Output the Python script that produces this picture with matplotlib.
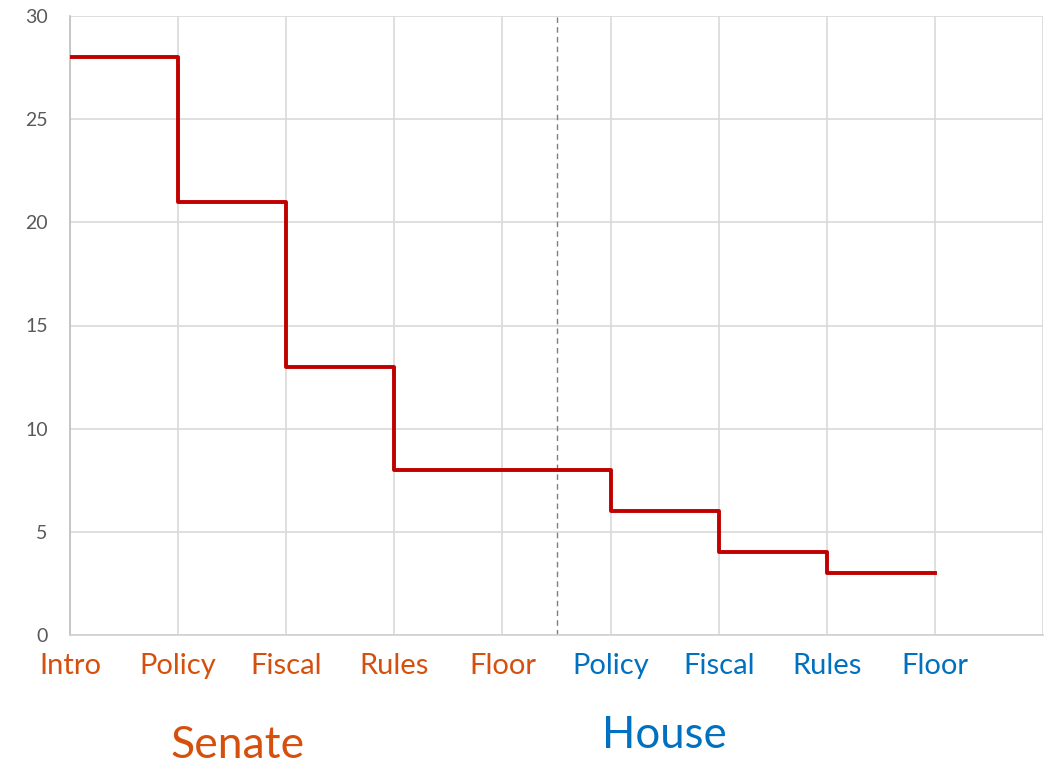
import matplotlib
matplotlib.use("Agg")
import matplotlib.pyplot as plt

stages = ["Intro", "Policy", "Fiscal", "Rules", "Floor", "Policy", "Fiscal", "Rules", "Floor"]
chambers = ["Senate", "Senate", "Senate", "Senate", "Senate", "House", "House", "House", "House"]
counts = [28, 21, 13, 8, 8, 6, 4, 3, 3]
yticks = [0, 5, 10, 15, 20, 25, 30]

colors = {"Senate": "#D5500C", "House": "#0070C0"}
plt.rcParams['font.family'] = ['Lato', 'DejaVu Sans']

fig = plt.figure(figsize=(10.56, 7.67), dpi=100)
ax = fig.add_axes([70/1056, 1 - 635/767, (1043-70)/1056, (635-16)/767])

x = list(range(len(stages)))
ax.step(x, counts, where='post', color='#C00000', lw=2.8, zorder=3)

ax.set_xlim(0, 9)
ax.set_ylim(0, 30)
ax.set_yticks(yticks)
ax.set_xticks(range(10))
ax.grid(True, color='#D9D9D9', lw=1.2)
ax.set_axisbelow(True)
for s in ['top', 'right']:
    ax.spines[s].set_visible(False)
ax.spines['left'].set_color('#BFBFBF')
ax.spines['bottom'].set_color('#D0D0D0')
ax.spines['left'].set_linewidth(1.2)
ax.spines['bottom'].set_linewidth(1.2)
ax.tick_params(axis='both', length=0)
ax.tick_params(axis='y', labelsize=14, labelcolor='#595959', pad=16)
ax.set_xticklabels([])

ax.axvline(4.5, color='#7F7F7F', lw=1, ls=(0, (4, 3)), zorder=2)

for xi, (st, ch) in enumerate(zip(stages, chambers)):
    ax.text(xi, -1.5, st, ha='center', va='center', fontsize=21, color=colors[ch])

fig.text(238/1056, 1 - 745/767, "Senate", ha='center', va='center', fontsize=32, color=colors["Senate"])
fig.text(664/1056, 1 - 735/767, "House", ha='center', va='center', fontsize=31.5, color=colors["House"])

fig.savefig("out.png", dpi=100)
